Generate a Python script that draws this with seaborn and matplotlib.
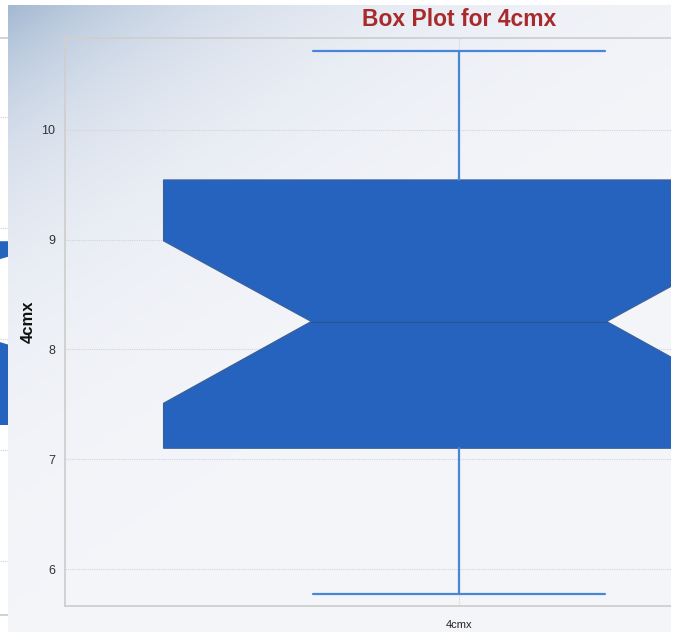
import numpy as np
import matplotlib.pyplot as plt
import seaborn as sns

W, H = 679, 641

# ---------- data ----------
variable = "4cmx"
median = 8.255
q1, q3 = 7.10, 9.545
notch_lo, notch_hi = 7.51, 8.99
whisker_lo, whisker_hi = 5.77, 10.72
y_ticks = [6, 7, 8, 9, 10]
y_limits = (5.663, 10.838)

# neighbouring chart, only its right edge is still in view
prev_median = 2.35
prev_q1, prev_q3 = 1.225, 2.88
prev_notch_lo, prev_notch_hi = 1.95, 2.74
prev_ticks = [0, 1, 2, 3, 4]
prev_limits = (-0.486, 4.71)

PANEL = "#f5f6fa"
BLUE = "#2563be"
TOP_LEFT = np.array([163, 184, 210]) / 255


def px(x0, y0, x1, y1):
    # pixel box (top-left origin) -> figure fraction rect
    return [x0 / W, 1 - y1 / H, (x1 - x0) / W, (y1 - y0) / H]


sns.set_theme(style="whitegrid")
plt.rcParams["font.family"] = ["Liberation Sans", "DejaVu Sans"]

fig = plt.figure(figsize=(W / 100, H / 100), dpi=100, facecolor="white")

# ---------- neighbour strip on the far left ----------
strip = fig.add_axes(px(0, 0, 8, H))
strip.set_facecolor(PANEL)
strip.set_axis_off()

nb = fig.add_axes(px(0, 38, 8, 615))
nb.set_facecolor("none")
nb.bxp(
    [dict(med=prev_median, q1=prev_q1, q3=prev_q3, whislo=prev_q1, whishi=prev_q3,
          cilo=prev_notch_lo, cihi=prev_notch_hi, fliers=[])],
    positions=[0], widths=1.0, shownotches=True, patch_artist=True,
    showfliers=False, showcaps=False,
    boxprops=dict(facecolor=BLUE, edgecolor=BLUE, linewidth=0),
    medianprops=dict(color="#2f5189", linewidth=0.8),
    whiskerprops=dict(linewidth=0),
)
nb.set_xlim(0.4865, 0.5)
nb.set_ylim(*prev_limits)
nb.set_yticks(prev_ticks)
nb.set_xticks([])
nb.tick_params(length=0, labelleft=False)
nb.grid(True, axis="y", color="#d4d4d4", linestyle=(0, (1, 1)), linewidth=0.8)
for s in ["top", "bottom"]:
    nb.spines[s].set_color("#cfcfcf")
    nb.spines[s].set_linewidth(1.3)
for s in ["left", "right"]:
    nb.spines[s].set_visible(False)

# ---------- main panel with gradient ----------
bg = fig.add_axes(px(8, 5, 671, 632))
gx, gy = np.meshgrid(np.arange(663), np.arange(627))
t = np.exp(-(gx / 220 + gy / 145))[..., None]
panel_rgb = np.array([245, 246, 250]) / 255
img = panel_rgb + t * (TOP_LEFT - panel_rgb)
bg.imshow(img, aspect="auto", extent=(0, 1, 0, 1), origin="upper")
bg.set_axis_off()

ax = fig.add_axes(px(65, 38, 853, 606))
ax.set_facecolor("none")
stats = [dict(med=median, q1=q1, q3=q3, whislo=whisker_lo, whishi=whisker_hi,
              cilo=notch_lo, cihi=notch_hi, fliers=[], label=variable)]
ax.bxp(
    stats, positions=[0], widths=0.75, capwidths=0.37, shownotches=True,
    patch_artist=True, showfliers=False,
    boxprops=dict(facecolor=BLUE, edgecolor="#3d5f94", linewidth=0.8),
    medianprops=dict(color="#2f5189", linewidth=0.8),
    whiskerprops=dict(color="#4a86d8", linewidth=1.6),
    capprops=dict(color="#4a86d8", linewidth=1.6),
)
ax.set_xlim(-0.5, 0.5)
ax.set_ylim(*y_limits)
ax.set_yticks(y_ticks)
ax.set_yticklabels([str(v) for v in y_ticks])
ax.set_xticks([0])
ax.set_xticklabels([variable])

ax.grid(True, color="#d4d4d4", linestyle=(0, (1, 1)), linewidth=0.8)
ax.set_axisbelow(True)
for s in ["left", "bottom", "top"]:
    ax.spines[s].set_color("#cfcfcf")
    ax.spines[s].set_linewidth(1.3)
ax.spines["right"].set_visible(False)

ax.tick_params(axis="y", length=5, color="#dddddd", width=0.8, pad=2,
               labelsize=9, labelcolor="#333333")
ax.tick_params(axis="x", length=6, color="#dddddd", width=0.8, pad=4,
               labelsize=8, labelcolor="#222222")

ax.set_title("Box Plot for 4cmx", color="#a82a2a", fontsize=16.5,
             fontweight="bold", pad=9)
ax.set_ylabel(variable, fontsize=12, fontweight="bold", color="#111111",
              labelpad=4)

# white margin on the right edge of the screenshot
cover = fig.add_axes(px(671, 0, W, H))
cover.set_facecolor("white")
cover.set_axis_off()
cover.add_patch(plt.Rectangle((0, 0), 1, 1, color="white",
                              transform=cover.transAxes))
cover.set_zorder(10)

fig.savefig("out.png", dpi=100, facecolor="white")
